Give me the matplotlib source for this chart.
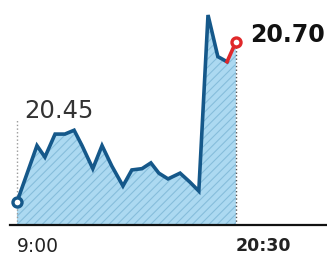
import matplotlib
matplotlib.use('Agg')
from matplotlib import pyplot as plt

# intraday price
times = ['9:00', '10:03', '10:28', '11:00', '11:31', '12:00', '12:25', '12:59',
         '13:28', '13:59', '14:34', '15:02', '15:34', '16:02', '16:27', '16:56',
         '17:34', '18:05', '18:33', '19:02', '19:33', '20:02', '20:30']
prices = [20.450, 20.538, 20.520, 20.556, 20.556, 20.562, 20.538, 20.502,
          20.538, 20.506, 20.475, 20.500, 20.502, 20.511, 20.495, 20.486,
          20.495, 20.481, 20.467, 20.742, 20.677, 20.669, 20.700]
open_label = '20.45'
close_label = '20.70'
open_marker_top = 20.58

def to_min(t):
    h, m = t.split(':')
    return (int(h) - 9) * 60 + int(m)

x = [to_min(t) for t in times]

plt.rcParams['font.family'] = ['DejaVu Sans']
plt.rcParams['hatch.linewidth'] = 0.8

fig = plt.figure(figsize=(3.27, 2.55), dpi=100)
ax = fig.add_axes([10 / 327, 29 / 255, 317 / 327, 226 / 255])

ymin, ymax = 20.414, 20.767
ax.set_xlim(-22, 977)
ax.set_ylim(ymin, ymax)

ax.fill_between(x, prices, ymin, facecolor='#acd9f1', edgecolor='#86bddb',
                hatch='////', linewidth=0, zorder=1)
ax.plot(x[:-1], prices[:-1], color='#15588a', lw=2.6, solid_joinstyle='miter', zorder=3)
ax.plot(x[-2:], prices[-2:], color='#e0282a', lw=2.6, zorder=3)
ax.plot(x[0], prices[0], 'o', ms=6.5, mfc='white', mec='#15588a', mew=2.4, zorder=4)
ax.plot(x[-1], prices[-1], 'o', ms=6.5, mfc='white', mec='#e0282a', mew=2.4, zorder=4)

ax.vlines(x[0], ymin, open_marker_top, colors='#999999', linestyles=':', lw=1, zorder=2)
ax.vlines(x[-1], ymin, prices[-1], colors='#555555', linestyles=':', lw=1, zorder=2)

ax.text(x[0] + 22, open_marker_top - 0.005, open_label, fontsize=17.5, color='#333333',
        ha='left', va='bottom')
ax.text(x[-1] + 45, prices[-1] + 0.012, close_label, fontsize=17, color='#111111',
        fontweight='bold', ha='left', va='center')

for side in ['top', 'right', 'left']:
    ax.spines[side].set_visible(False)
ax.spines['bottom'].set_linewidth(1.6)
ax.spines['bottom'].set_color('#111111')
ax.set_yticks([])
ax.set_xticks([x[0], x[-1]])
ax.set_xticklabels([times[0], times[-1]])
ax.tick_params(axis='x', length=0, pad=8, labelsize=13.5, colors='#222222')
for lab in ax.get_xticklabels():
    lab.set_horizontalalignment('left')
ax.get_xticklabels()[-1].set_fontweight('bold')
ax.get_xticklabels()[-1].set_fontsize(12.5)

fig.savefig('out.png', dpi=100)
